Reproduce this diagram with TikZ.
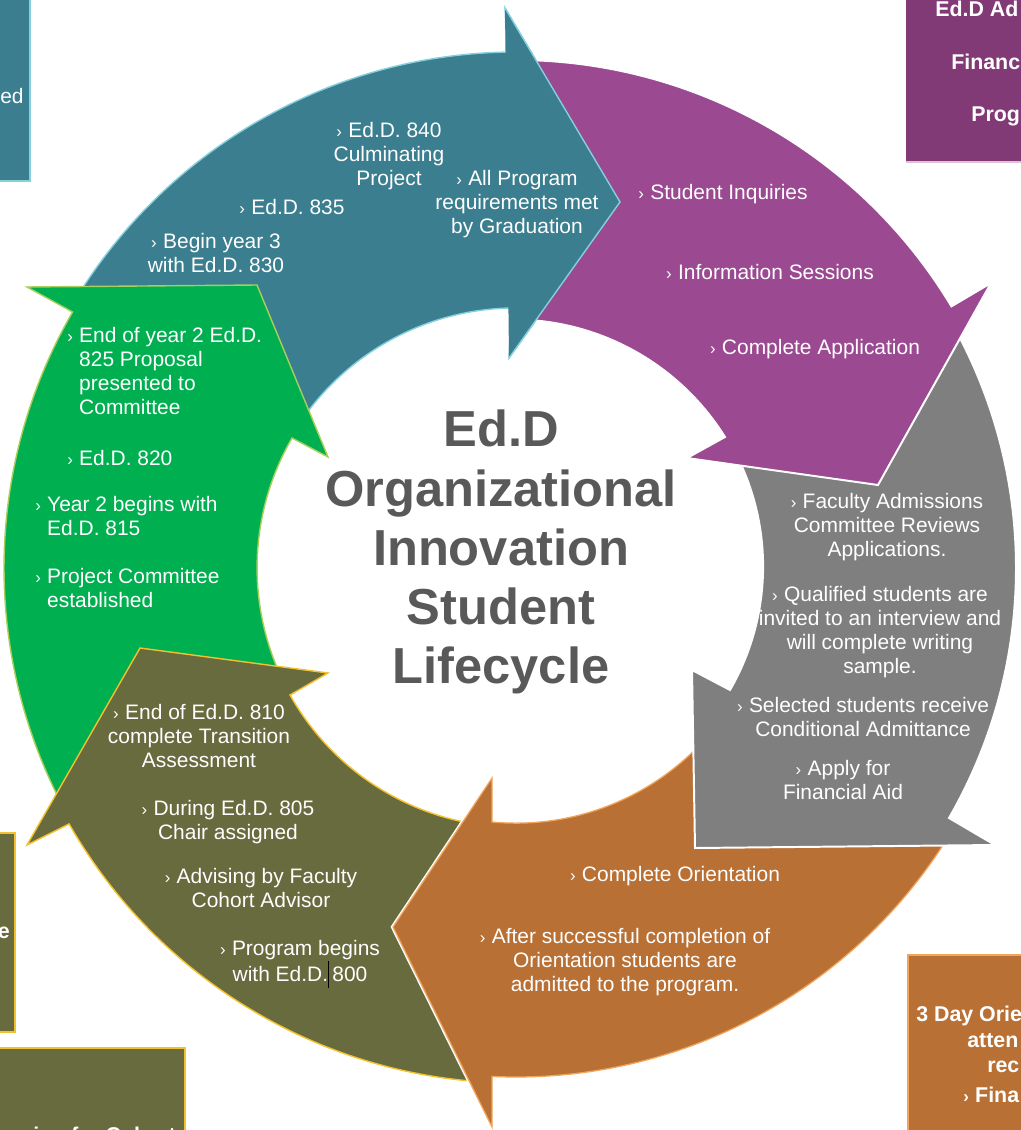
\documentclass[tikz,border=0pt]{standalone}
\usepackage{fontspec}
\setmainfont{Liberation Sans}
\usetikzlibrary{calc}

\definecolor{cTeal}{HTML}{3A7E8F}
\definecolor{cTealLine}{HTML}{86CFDC}
\definecolor{cPurple}{HTML}{9B4991}
\definecolor{cPurpleBox}{HTML}{823A76}
\definecolor{cGray}{HTML}{7F7F7F}
\definecolor{cOrange}{HTML}{B87035}
\definecolor{cOrangeLine}{HTML}{F2A45A}
\definecolor{cOlive}{HTML}{686B3E}
\definecolor{cGold}{HTML}{F2C12E}
\definecolor{cGreen}{HTML}{00AF50}
\definecolor{cGreenLine}{HTML}{A9CF5B}
\definecolor{cTitle}{HTML}{595959}

\newcommand{\chev}{{\fontsize{12}{12}\selectfont›}}
\newcommand{\bul}{\chev\hspace{4.5pt}}

\tikzset{
  tealarr/.style={fill=cTeal, draw=cTealLine, line width=1pt},
  purplearr/.style={fill=cPurple, draw=white, line width=1.4pt},
  grayarr/.style={fill=cGray, draw=white, line width=1.4pt},
  orangearr/.style={fill=cOrange, draw=cOrangeLine, line width=0.9pt,
    preaction={draw=white, line width=3pt}},
  olivearr/.style={fill=cOlive, draw=cGold, line width=1pt},
  greenarr/.style={fill=cGreen, draw=cGreenLine, line width=1pt},
  txt/.style={text=white, font=\fontsize{14.9}{17.1}\selectfont, align=center, inner sep=0pt},
  boxtxt/.style={text=white, font=\bfseries\fontsize{15.2}{18}\selectfont, inner sep=0pt},
  heading/.style={text=cTitle, font=\bfseries\fontsize{36}{42}\selectfont, align=center, inner sep=0pt}
}

\begin{document}
\begin{tikzpicture}[x=0.025cm, y=-0.025cm, line join=miter]
    \useasboundingbox (0,0) rectangle (1020,1130);
    \coordinate (c) at (516,568);

    % side boxes (cut by the page)
    \filldraw[fill=cTeal, draw=cTealLine, line width=1pt] (-10,-10) rectangle (30,181);
    \node[txt, anchor=west] (boxtl) at (0,96) {ed};
    \fill[cPurpleBox] (906,-10) rectangle (1030,162);
    \draw[white!70!cPurpleBox, line width=0.8pt] (906,162) -- (1030,162);
    \node[boxtxt, anchor=west] (boxtr1) at (935,9) {Ed.D Ad};
    \node[boxtxt, anchor=west] (boxtr2) at (951,62) {Financ};
    \node[boxtxt, anchor=west] (boxtr3) at (971,116) {Prog};
    \filldraw[fill=cOlive, draw=cGold, line width=1pt] (-10,833) rectangle (15,1032);
    \node[boxtxt, anchor=east] (boxml) at (10,933) {e};
    \filldraw[fill=cOlive, draw=cGold, line width=1pt] (-10,1048) rectangle (185,1140);
    \node[boxtxt, anchor=base west] (boxbl) at (33,1142) {ion for Cohort};
    \filldraw[fill=cOrange, draw=cOrangeLine, line width=1pt] (908,955) rectangle (1030,1140);
    \node[boxtxt, anchor=west] (boxbr1) at (916,1016) {3 Day Orie};
    \node[boxtxt, anchor=west] (boxbr2) at (967,1041) {atten};
    \node[boxtxt, anchor=west] (boxbr3) at (987,1067) {rec};
    \node[boxtxt, anchor=west] (boxbr4) at (963,1095) {\bul Fina};

    % cycle arrows
    \filldraw[tealarr] ($(c)+(-150:516)$) arc[start angle=-150, end angle=-91, radius=516]
        -- (505,8) -- (620,202) -- (509,358) -- (511,308)
        arc[start angle=-91, end angle=-150, radius=260] -- cycle;
    \filldraw[greenarr] ($(c)+(150.5:512)$) arc[start angle=150.5, end angle=210, radius=512]
        -- (27,287) -- (257,285) -- (328,457) -- (292,438)
        arc[start angle=210.1, end angle=150.5, radius=259] -- cycle;
    \filldraw[olivearr] ($(c)+(93:515)$) arc[start angle=93, end angle=150.2, radius=515]
        -- (27,845) -- (140,648) -- (328,673) -- (290,695)
        arc[start angle=150.7, end angle=93, radius=259] -- cycle;
    \filldraw[orangearr] ($(c)+(30:509)$) arc[start angle=30, end angle=92.7, radius=509]
        -- (492,1127) -- (393,927) -- (492,778) -- (492,822)
        arc[start angle=95.4, end angle=30, radius=255] -- cycle;
    \filldraw[grayarr] ($(c)+(-31:500)$) arc[start angle=-31, end angle=30, radius=500]
        -- (995,845) -- (695,848) -- (692,670) -- (730,690)
        arc[start angle=30, end angle=-31, radius=247] -- cycle;
    \filldraw[purplearr] ($(c)+(-89:508)$) arc[start angle=-89, end angle=-31, radius=508]
        -- (991,283) -- (878,485) -- (687,458) -- (725,437)
        arc[start angle=-32, end angle=-89, radius=250] -- cycle;
    % teal head again, over the purple tail
    \fill[cTeal] (505,8) -- (620,202) -- (509,358) -- cycle;
    \draw[cTealLine, line width=1pt] (505,8) -- (620,202) -- (509,358);

    % title
    \node[heading] (title) at (501,552) {Ed.D\\Organizational\\Innovation\\Student\\Lifecycle};

    % teal texts
    \node[txt] (t840) at (389,156) {\bul Ed.D. 840\\Culminating\\Project};
    \node[txt] (tgrad) at (517,204) {\bul All Program\\requirements met\\by Graduation};
    \node[txt] (t835) at (292,207) {\bul Ed.D. 835};
    \node[txt] (t830) at (216,253) {\bul Begin year 3\\with Ed.D. 830};

    % purple texts
    \node[txt] (pinq) at (723,194) {\bul Student Inquiries};
    \node[txt] (pinfo) at (770,272) {\bul Information Sessions};
    \node[txt] (papp) at (815,349) {\bul Complete Application};

    % gray texts
    \node[txt] (greview) at (887,527) {\bul Faculty Admissions\\Committee Reviews\\Applications.};
    \node[txt] (ginterview) at (880,632) {\bul Qualified students are\\invited to an interview and\\will complete writing\\sample.};
    \node[txt] (gadmit) at (863,717) {\bul Selected students receive\\Conditional Admittance};
    \node[txt] (gaid) at (843,780) {\bul Apply for\\Financial Aid};

    % orange texts
    \node[txt] (oorient) at (675,876) {\bul Complete Orientation};
    \node[txt] (oadmit) at (625,962) {\bul After successful completion of\\Orientation students are\\admitted to the program.};

    % olive texts
    \node[txt] (v810) at (199,736) {\bul End of Ed.D. 810\\complete Transition\\Assessment};
    \node[txt] (v805) at (228,822) {\bul During Ed.D. 805\\Chair assigned};
    \node[txt] (vadvise) at (261,888) {\bul Advising by Faculty\\Cohort Advisor};
    \node[txt] (v800) at (300,964) {\bul Program begins\\with Ed.D.{\color{black}\rule[-0.3em]{0.5pt}{1.25em}}\,800};

    % green texts
    \node[txt, anchor=west] (e825) at (67,374) {\begin{tabular}{@{}l@{\hspace{4.5pt}}l@{}}\chev&End of year 2 Ed.D.\\&825 Proposal\\&presented to\\&Committee\end{tabular}};
    \node[txt, anchor=west] (e820) at (67,458) {\bul Ed.D. 820};
    \node[txt, anchor=west] (e815) at (35,519) {\begin{tabular}{@{}l@{\hspace{4.5pt}}l@{}}\chev&Year 2 begins with\\&Ed.D. 815\end{tabular}};
    \node[txt, anchor=west] (ecomm) at (35,591) {\begin{tabular}{@{}l@{\hspace{4.5pt}}l@{}}\chev&Project Committee\\&established\end{tabular}};
\end{tikzpicture}
\end{document}
